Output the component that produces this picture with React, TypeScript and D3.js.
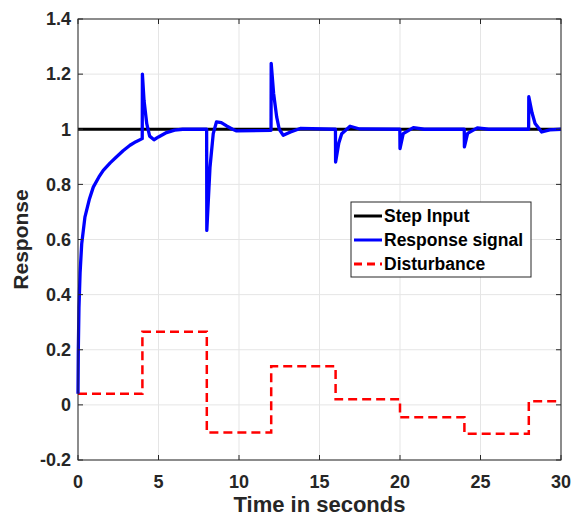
import React from 'react';
import * as d3 from 'd3';

// Data
const xTicks = [0, 5, 10, 15, 20, 25, 30];
const yTicks = [-0.2, 0, 0.2, 0.4, 0.6, 0.8, 1, 1.2, 1.4];

const stepTime = [0, 30];
const stepValue = [1, 1];

const responseTime = [
  0, 0.02, 0.06, 0.13, 0.23, 0.43, 0.7, 0.95, 1.3, 1.57, 2.0, 2.4, 2.8, 3.23, 3.6, 3.99,
  4.0, 4.1, 4.27, 4.45, 4.72, 5.0, 5.5, 6.0, 6.5, 7.99,
  8.0, 8.2, 8.4, 8.6, 8.9, 9.23, 9.6, 9.85, 11.99,
  12.0, 12.15, 12.34, 12.5, 12.75, 13.2, 13.8, 15.99,
  16.0, 16.2, 16.38, 16.9, 17.5, 19.99,
  20.0, 20.2, 20.83, 21.5, 23.99,
  24.0, 24.2, 24.8, 25.5, 27.99,
  28.0, 28.2, 28.39, 28.8, 29.3, 30,
];
const responseValue = [
  0.04, 0.2, 0.353, 0.48, 0.584, 0.681, 0.745, 0.79, 0.827, 0.851, 0.878, 0.9, 0.922, 0.942, 0.955, 0.966,
  1.2, 1.105, 1.02, 0.975, 0.962, 0.972, 0.988, 0.997, 1.0, 1.0,
  0.633, 0.863, 0.984, 1.027, 1.024, 1.012, 1.0, 0.994, 0.996,
  1.239, 1.13, 1.045, 1.0, 0.978, 0.99, 1.003, 1.0,
  0.881, 0.95, 0.984, 1.011, 1.001, 1.0,
  0.93, 0.984, 1.006, 1.0, 1.0,
  0.936, 0.985, 1.005, 1.0, 1.0,
  1.118, 1.06, 1.021, 0.99, 0.998, 1.0,
];

const disturbanceTime = [0, 4, 8, 12, 16, 20, 24, 28, 30];
const disturbanceValue = [0.04, 0.265, -0.1, 0.14, 0.02, -0.045, -0.105, 0.013, 0.013];

const legendLabels = ['Step Input', 'Response signal', 'Disturbance'];

const width = 573;
const height = 519;
const margin = { top: 19, right: 12, bottom: 59, left: 78 };
const font = '"Liberation Sans", Arial, sans-serif';
const axisColor = '#262626';

const App = () => {
  const x = d3.scaleLinear().domain([0, 30]).range([margin.left, width - margin.right]);
  const y = d3.scaleLinear().domain([-0.2, 1.4]).range([height - margin.bottom, margin.top]);

  const line = d3.line<[number, number]>()
    .x(d => x(d[0]))
    .y(d => y(d[1]));

  const stepLine = d3.line<[number, number]>()
    .x(d => x(d[0]))
    .y(d => y(d[1]))
    .curve(d3.curveStepAfter);

  const stepPts = stepTime.map((t, i) => [t, stepValue[i]] as [number, number]);
  const respPts = responseTime.map((t, i) => [t, responseValue[i]] as [number, number]);
  const distPts = disturbanceTime.map((t, i) => [t, disturbanceValue[i]] as [number, number]);

  const [x0, x1] = x.range();
  const [y0, y1] = y.range();

  const legend = { left: 351, top: 202, w: 180, h: 75 };
  const legendStyles = [
    { stroke: '#000000', dash: undefined },
    { stroke: '#0000ff', dash: undefined },
    { stroke: '#ff0000', dash: '8,5' },
  ];

  return (
    <div style={{ position: 'absolute', left: 0, top: 0 }}>
      <svg width={width} height={height} style={{ display: 'block', background: '#fff' }}>
        {/* Grid lines */}
        <g stroke="#e5e5e5" strokeWidth={1}>
          {xTicks.map(t => (
            <line key={'gx' + t} x1={x(t)} x2={x(t)} y1={y1} y2={y0} />
          ))}
          {yTicks.map(t => (
            <line key={'gy' + t} x1={x0} x2={x1} y1={y(t)} y2={y(t)} />
          ))}
        </g>

        {/* Series */}
        <path d={stepLine(distPts) || ''} fill="none" stroke="#ff0000" strokeWidth={2.5} strokeDasharray="9,5" />
        <path d={line(stepPts) || ''} fill="none" stroke="#000000" strokeWidth={3} />
        <path d={line(respPts) || ''} fill="none" stroke="#0000ff" strokeWidth={3.3} strokeLinejoin="round" />

        {/* Axes box */}
        <rect x={x0} y={y1} width={x1 - x0} height={y0 - y1} fill="none" stroke={axisColor} strokeWidth={1} />
        <g stroke={axisColor} strokeWidth={1}>
          {xTicks.map(t => (
            <g key={'tx' + t}>
              <line x1={x(t)} x2={x(t)} y1={y0} y2={y0 - 5} />
              <line x1={x(t)} x2={x(t)} y1={y1} y2={y1 + 5} />
            </g>
          ))}
          {yTicks.map(t => (
            <g key={'ty' + t}>
              <line x1={x0} x2={x0 + 5} y1={y(t)} y2={y(t)} />
              <line x1={x1} x2={x1 - 5} y1={y(t)} y2={y(t)} />
            </g>
          ))}
        </g>

        {/* Tick labels */}
        <g fontFamily={font} fontWeight="bold" fontSize={18} fill={axisColor}>
          {xTicks.map(t => (
            <text key={'lx' + t} x={x(t)} y={y0 + 28} textAnchor="middle">{t}</text>
          ))}
          {yTicks.map(t => (
            <text key={'ly' + t} x={x0 - 7} y={y(t)} dy="0.35em" textAnchor="end">{String(t)}</text>
          ))}
        </g>

        {/* Axis labels */}
        <text x={(x0 + x1) / 2} y={512} textAnchor="middle" fontFamily={font} fontWeight="bold" fontSize={22} fill={axisColor}>
          Time in seconds
        </text>
        <text transform={`translate(28,${(y0 + y1) / 2}) rotate(-90)`} textAnchor="middle" fontFamily={font} fontWeight="bold" fontSize={21} fill={axisColor}>
          Response
        </text>

        {/* Legend */}
        <g>
          <rect x={legend.left} y={legend.top} width={legend.w} height={legend.h} fill="#fff" stroke={axisColor} strokeWidth={1} />
          {legendLabels.map((label, i) => {
            const cy = legend.top + 14 + i * 24;
            return (
              <g key={label}>
                <line x1={legend.left + 3} x2={legend.left + 31} y1={cy} y2={cy}
                  stroke={legendStyles[i].stroke} strokeWidth={3} strokeDasharray={legendStyles[i].dash} />
                <text x={legend.left + 33} y={cy} dy="0.35em" fontFamily={font} fontWeight="bold" fontSize={17.5} fill="#000">
                  {label}
                </text>
              </g>
            );
          })}
        </g>
      </svg>
    </div>
  );
};

export default App;
